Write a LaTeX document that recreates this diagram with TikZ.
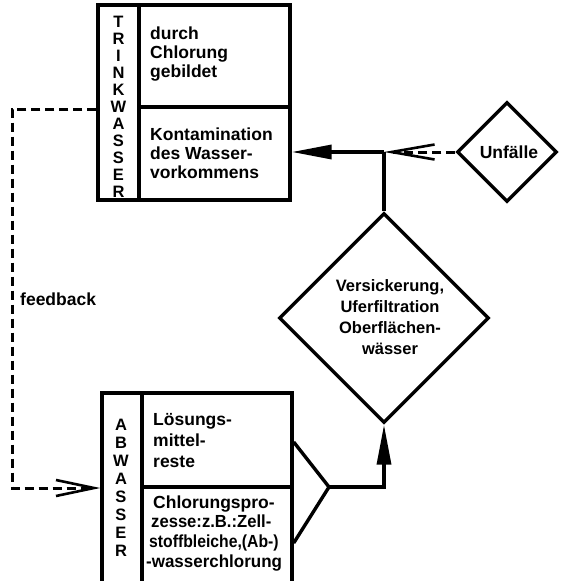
\documentclass[tikz,border=0pt]{standalone}
\usepackage{fontspec}
\usepackage{graphicx}
\setmainfont{Liberation Sans}
\usetikzlibrary{arrows.meta,shapes.geometric}
\begin{document}
\begin{tikzpicture}[x=1pt,y=-1pt,
  box/.style={draw,line width=3.4pt,rectangle,inner sep=0pt},
  dia/.style={draw,line width=3.4pt,diamond,aspect=1,inner sep=0pt},
  txt/.style={anchor=base west,inner sep=0pt,font=\fontsize{17.5}{19}\selectfont\bfseries},
  ctxt/.style={anchor=base,inner sep=0pt,font=\fontsize{16.5}{19}\selectfont\bfseries},
  letter/.style={anchor=base,inner sep=0pt,font=\fontsize{16.5}{18}\selectfont\bfseries},
  div/.style={line width=3.2pt},
  conn/.style={line width=3.4pt},
  dconn/.style={line width=3pt,dash pattern=on 9pt off 5pt},
  barb/.style={-{Straight Barb[length=43pt,width=15pt,line width=2.6pt]}},
  tri/.style={-{Triangle[length=40pt,width=14pt]}}
]
\useasboundingbox (0,0) rectangle (560,581);

% TRINKWASSER box
\node[box,minimum width=192pt,minimum height=195pt] (trink) at (194,102.5) {};
\draw[div] (139,5) -- (139,200);
\draw[div] (139,107) -- (290,107);
\foreach \l [count=\i from 0] in {T,R,I,N,K,W,A,S,S,E,R}
  \node[letter] (tl\i) at (118.5,{27+17*\i}) {\l};
\node[txt] (t1) at (150,39) {durch};
\node[txt] (t2) at (150,58) {Chlorung};
\node[txt] (t3) at (150,77) {gebildet};
\node[txt] (t4) at (150,140) {Kontamination};
\node[txt] (t5) at (150,159) {des Wasser-};
\node[txt] (t6) at (150,178) {vorkommens};

% ABWASSER box
\node[box,minimum width=190pt,minimum height=190pt] (abw) at (197,488) {};
\draw[div] (142,393) -- (142,583);
\draw[div] (142,487) -- (292,487);
\foreach \l [count=\i from 0] in {A,B,W,A,S,S,E,R}
  \node[letter] (al\i) at (121,{430+18.1*\i}) {\l};
\node[txt] (a1) at (153,425) {Lösungs-};
\node[txt] (a2) at (153,446) {mittel-};
\node[txt] (a3) at (153,467) {reste};
\node[txt] (a4) at (153,508) {Chlorungspro-};
\node[txt] (a5) at (151,527) {\scalebox{0.95}[1]{zesse:z.B.:Zell-}};
\node[txt] (a6) at (149,547) {\scalebox{0.9}[1]{stoffbleiche,(Ab-)}};
\node[txt] (a7) at (146,567) {\scalebox{0.97}[1]{-wasserchlorung}};

% diamonds
\node[dia,minimum width=210pt,minimum height=210pt] (big) at (384,318) {};
\node[ctxt] (b1) at (390,291) {Versickerung,};
\node[ctxt] (b2) at (390,312) {Uferfiltration};
\node[ctxt] (b3) at (390,333) {Oberflächen-};
\node[ctxt] (b4) at (390,354) {wässer};

\node[dia,minimum width=100pt,minimum height=100pt] (unf) at (507,152) {};
\node[txt,anchor=base] (u1) at (509,158) {Unfälle};

% connectors
\coordinate (j) at (384,152);
\coordinate (m) at (329,487);
\draw[conn,line join=miter] (abw.east |- 0,442) -- (m) -- (abw.east |- 0,543);
\draw[conn,tri] (m) -| (big.south);
\draw[conn] (big.north) -- (j);
\draw[conn,tri] (j) -- (trink.east |- j);
\draw[dconn,barb] (unf.west) -- (j);

\coordinate (fb1) at (12,109);
\coordinate (fb2) at (12,488);
\draw[dconn,-{Straight Barb[length=38pt,width=16pt,line width=2.6pt]}] (trink.west |- fb1) -- (fb1) -- (fb2) -- (abw.west |- fb2);
\node[txt] (fb) at (20,305) {feedback};
\end{tikzpicture}
\end{document}
